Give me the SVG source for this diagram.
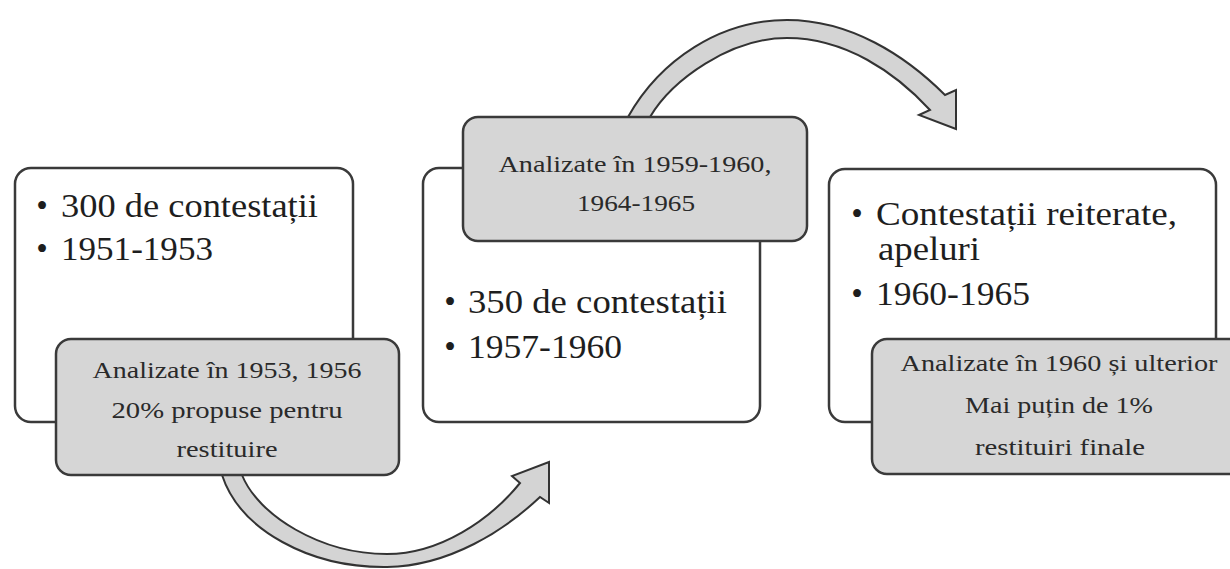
<svg xmlns="http://www.w3.org/2000/svg" width="1230" height="569" viewBox="0 0 1230 569">
<style>
.box{fill:#ffffff;stroke:#3a3a3a;stroke-width:2.5}
.gbox{fill:#d6d6d6;stroke:#3a3a3a;stroke-width:2.5}
.arr{fill:#d4d4d4;stroke:#333333;stroke-width:2;stroke-linejoin:miter}
.main{font-family:"Liberation Serif","Times New Roman",serif;font-size:33px;fill:#1e1e1e}
.bul{font-family:"Liberation Serif","Times New Roman",serif;font-size:33px;fill:#1e1e1e;text-anchor:middle}
.sub{font-family:"Liberation Serif","Times New Roman",serif;font-size:24px;fill:#2a2a2a;text-anchor:middle}
</style>
<rect width="1230" height="569" fill="#ffffff"/>
<g id="connectors">
<path class="arr" d="M222,460 L222,475 C240,530 310,568 387,567 C450,566 505,530 540,497 L549,503 L549,462 L512,476 L520,483 C490,520 440,554 387,554 C320,554 258,515 242,475 L242,460 Z"/>
<path class="arr" d="M620,130 L628,117 C660,60 720,20 787,20 C850,20 905,55 945,95 L956,90 L956,129 L919,115 L930,110 C895,72 845,38 787,38 C730,38 672,80 650,117 L645,130 Z"/>
</g>
<g id="node1">
<rect class="box" x="15" y="168" width="338" height="254" rx="16"/>
<text class="bul" x="42" y="217">•</text>
<text class="main" x="61" y="217" textLength="257" lengthAdjust="spacingAndGlyphs">300 de contestații</text>
<text class="bul" x="42" y="260">•</text>
<text class="main" x="61" y="260" textLength="152" lengthAdjust="spacingAndGlyphs">1951-1953</text>
</g>
<g id="node2">
<rect class="box" x="423" y="168" width="337" height="254" rx="16"/>
<text class="bul" x="450" y="313">•</text>
<text class="main" x="468" y="313" textLength="259" lengthAdjust="spacingAndGlyphs">350 de contestații</text>
<text class="bul" x="450" y="358">•</text>
<text class="main" x="468" y="358" textLength="154" lengthAdjust="spacingAndGlyphs">1957-1960</text>
</g>
<g id="node3">
<rect class="box" x="829" y="169" width="387" height="253" rx="16"/>
<text class="bul" x="857" y="225">•</text>
<text class="main" x="876" y="225" textLength="301" lengthAdjust="spacingAndGlyphs">Contestații reiterate,</text>
<text class="main" x="878" y="260" textLength="102" lengthAdjust="spacingAndGlyphs">apeluri</text>
<text class="bul" x="857" y="305">•</text>
<text class="main" x="876" y="305" textLength="154" lengthAdjust="spacingAndGlyphs">1960-1965</text>
</g>
<g id="note1">
<rect class="gbox" x="56" y="339" width="343" height="136" rx="15"/>
<text class="sub" x="227" y="378" textLength="269" lengthAdjust="spacingAndGlyphs">Analizate în 1953, 1956</text>
<text class="sub" x="227" y="418" textLength="231" lengthAdjust="spacingAndGlyphs">20% propuse pentru</text>
<text class="sub" x="227" y="457" textLength="101" lengthAdjust="spacingAndGlyphs">restituire</text>
</g>
<g id="note2">
<rect class="gbox" x="463" y="117" width="344" height="124" rx="15"/>
<text class="sub" x="635" y="172" textLength="273" lengthAdjust="spacingAndGlyphs">Analizate în 1959-1960,</text>
<text class="sub" x="636" y="211" textLength="118" lengthAdjust="spacingAndGlyphs">1964-1965</text>
</g>
<g id="note3">
<rect class="gbox" x="872" y="339" width="380" height="135" rx="15"/>
<text class="sub" x="1059" y="371" textLength="317" lengthAdjust="spacingAndGlyphs">Analizate în 1960 și ulterior</text>
<text class="sub" x="1059" y="413" textLength="188" lengthAdjust="spacingAndGlyphs">Mai puțin de 1%</text>
<text class="sub" x="1060" y="455" textLength="170" lengthAdjust="spacingAndGlyphs">restituiri finale</text>
</g>
</svg>
